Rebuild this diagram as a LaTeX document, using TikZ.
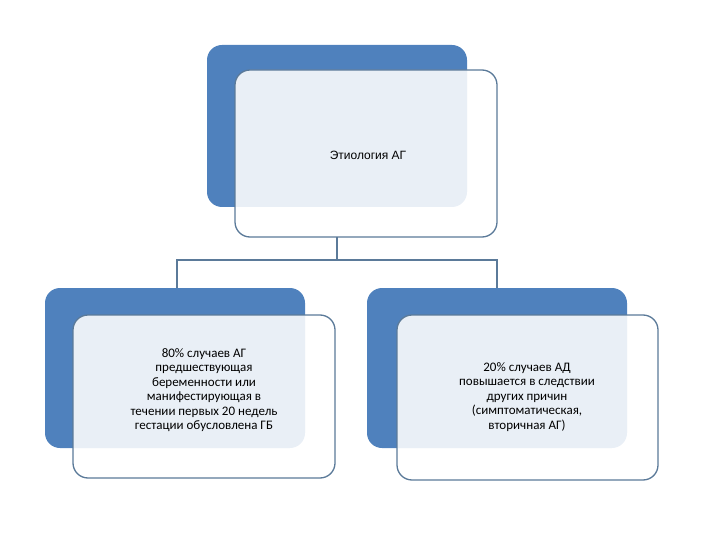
\documentclass[tikz,border=0pt]{standalone}
\usepackage{fontspec}
\setmainfont{Carlito}
\newfontfamily\arialf{Liberation Sans}
\definecolor{bblue}{HTML}{4F81BD}
\definecolor{bord}{HTML}{5B7A99}
\begin{document}
\begin{tikzpicture}[x=1pt,y=-1pt,
  back/.style={fill=bblue,rounded corners=15pt},
  front/.style={draw=bord,line width=1.3pt,fill=white,fill opacity=0.88,rounded corners=15pt},
  conn/.style={draw=bord,line width=1.3pt},
  txt/.style={text=black,align=center,font=\fontsize{13}{14.5}\selectfont}]
\useasboundingbox (0,0) rectangle (720,540);
\fill[back] (207,45) rectangle (467,207);
\path[front] (235,70) rectangle (497,237);
\node[txt,font=\arialf\fontsize{12}{14}\selectfont] (top) at (368,155) {Этиология АГ};
\fill[back] (45,288) rectangle (305,448);
\path[front] (73,315) rectangle (335,478);
\node[txt] (l) at (204,390) {80\% случаев  АГ\\предшествующая\\беременности или\\манифестирующая в\\течении первых 20 недель\\гестации обусловлена ГБ};
\fill[back] (367,288) rectangle (627,448);
\path[front] (397,315) rectangle (658,480);
\node[txt] (r) at (527,397) {20\% случаев АД\\повышается в следствии\\других причин\\(симптоматическая,\\вторичная АГ)};
\coordinate (a) at (337,237);
\coordinate (b) at (337,260);
\coordinate (bl) at (177,260);
\coordinate (br) at (497,260);
\coordinate (cl) at (177,288);
\coordinate (cr) at (497,288);
\draw[conn] (a) -- (b);
\draw[conn] (cl) -- (bl) -- (br) -- (cr);
\end{tikzpicture}
\end{document}
